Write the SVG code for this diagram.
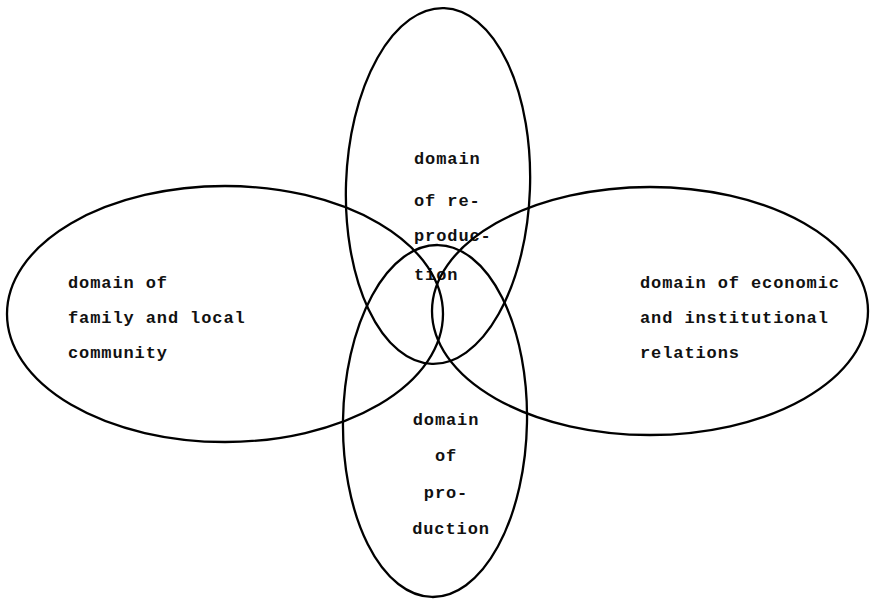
<svg xmlns="http://www.w3.org/2000/svg" width="870" height="600" viewBox="0 0 870 600">
<style>
.dom{fill:none;stroke:#000;stroke-width:2.3}
.t{font-family:"Liberation Mono","DejaVu Sans Mono",monospace;font-weight:bold;font-size:17px;letter-spacing:0.9px;fill:#111}
.c{text-anchor:middle}
</style>
<rect width="870" height="600" fill="#fff"/>
<g id="reproduction">
<ellipse class="dom" cx="438" cy="186" rx="92" ry="178" transform="rotate(2 438 186)"/>
<text class="t" x="414" y="164">domain</text>
<text class="t" x="414" y="206">of re-</text>
<text class="t" x="414" y="241">produc-</text>
<text class="t" x="414" y="280">tion</text>
</g>
<g id="production">
<ellipse class="dom" cx="435" cy="421" rx="92" ry="176" transform="rotate(1 435 421)"/>
<text class="t c" x="446" y="425">domain</text>
<text class="t c" x="446" y="461">of</text>
<text class="t c" x="446" y="498">pro-</text>
<text class="t c" x="451" y="534">duction</text>
</g>
<g id="family">
<ellipse class="dom" cx="225" cy="314" rx="218" ry="128"/>
<text class="t" x="68" y="288">domain of</text>
<text class="t" x="68" y="323">family and local</text>
<text class="t" x="68" y="358">community</text>
</g>
<g id="economic">
<ellipse class="dom" cx="650" cy="311" rx="218" ry="124"/>
<text class="t" x="640" y="288">domain of economic</text>
<text class="t" x="640" y="323">and institutional</text>
<text class="t" x="640" y="358">relations</text>
</g>
<g id="connectors"/>
</svg>
